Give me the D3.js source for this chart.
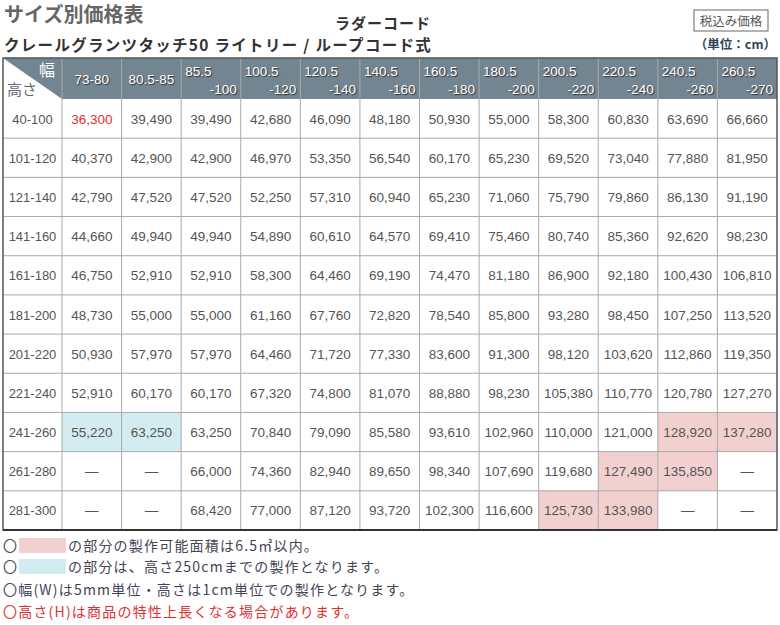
<!DOCTYPE html>
<html><head><meta charset="utf-8">
<script src="https://cdn.jsdelivr.net/npm/d3@7"></script>
<style>body{margin:0;background:#fff;font-family:"Noto Sans CJK JP",sans-serif}</style>
</head><body><div id="chart"></div>
<script>
// 幅 (width ranges), two lines each
var widths = [["73-80",""],["80.5-85",""],["85.5","-100"],["100.5","-120"],["120.5","-140"],["140.5","-160"],["160.5","-180"],["180.5","-200"],["200.5","-220"],["220.5","-240"],["240.5","-260"],["260.5","-270"]];
var heights = ["40-100","101-120","121-140","141-160","161-180","181-200","201-220","221-240","241-260","261-280","281-300"];
var prices = [
 [36300,39490,39490,42680,46090,48180,50930,55000,58300,60830,63690,66660],
 [40370,42900,42900,46970,53350,56540,60170,65230,69520,73040,77880,81950],
 [42790,47520,47520,52250,57310,60940,65230,71060,75790,79860,86130,91190],
 [44660,49940,49940,54890,60610,64570,69410,75460,80740,85360,92620,98230],
 [46750,52910,52910,58300,64460,69190,74470,81180,86900,92180,100430,106810],
 [48730,55000,55000,61160,67760,72820,78540,85800,93280,98450,107250,113520],
 [50930,57970,57970,64460,71720,77330,83600,91300,98120,103620,112860,119350],
 [52910,60170,60170,67320,74800,81070,88880,98230,105380,110770,120780,127270],
 [55220,63250,63250,70840,79090,85580,93610,102960,110000,121000,128920,137280],
 [null,null,66000,74360,82940,89650,98340,107690,119680,127490,135850,null],
 [null,null,68420,77000,87120,93720,102300,116600,125730,133980,null,null]
];
// highlight cells [row, col]
var pinkCells = [[8,10],[8,11],[9,9],[9,10],[10,8],[10,9]];
var blueCells = [[8,0],[8,1]];
var notes = ["の部分の製作可能面積は6.5㎡以内。","の部分は、高さ250cmまでの製作となります。","〇幅(W)は5mm単位・高さは1cm単位での製作となります。","〇高さ(H)は商品の特性上長くなる場合があります。"];

var W = 780, H = 625;
var svg = d3.select("#chart").append("svg").attr("width", W).attr("height", H);
var left = 3, right = 777, firstW = 59, tTop = 58, headH = 41, bottom = 530;
var x = d3.scaleBand().domain(d3.range(widths.length)).range([left + firstW, right]);
var y = d3.scaleBand().domain(d3.range(heights.length)).range([tTop + headH, bottom]);
var txt = "#555";
var numFont = "'Liberation Sans', Arial, sans-serif";

// titles
svg.append("text").attr("x", 4).attr("y", 22).attr("font-size", 20).attr("font-weight", "bold").attr("fill", "#666").text("サイズ別価格表");
svg.append("text").attr("x", 335).attr("y", 29).attr("font-size", 15).attr("font-weight", "bold").attr("fill", "#333").attr("letter-spacing", 1).text("ラダーコード");
svg.append("text").attr("x", 4).attr("y", 51).attr("font-size", 15.5).attr("font-weight", "bold").attr("fill", "#333").attr("letter-spacing", 1.3).text("クレールグランツタッチ50 ライトリー / ループコード式");
svg.append("rect").attr("x", 694).attr("y", 10).attr("width", 74).attr("height", 21).attr("fill", "#fff").attr("stroke", "#666");
svg.append("text").attr("x", 731).attr("y", 26).attr("text-anchor", "middle").attr("font-size", 12.5).attr("fill", "#555").text("税込み価格");
svg.append("text").attr("x", 776).attr("y", 49).attr("text-anchor", "end").attr("font-size", 12.5).attr("font-weight", "bold").attr("fill", "#345").text("（単位：cm）");

// header
svg.append("rect").attr("x", left).attr("y", tTop).attr("width", right - left).attr("height", headH).attr("fill", "#738591");
svg.append("path").attr("d", "M" + left + "," + tTop + "L" + (left + firstW) + "," + (tTop + headH) + "L" + left + "," + (tTop + headH) + "Z").attr("fill", "#fff");
svg.append("text").attr("x", 55).attr("y", 76).attr("text-anchor", "end").attr("font-size", 16).attr("fill", "#fff").text("幅");
svg.append("text").attr("x", 7).attr("y", 95).attr("font-size", 15).attr("fill", "#667").text("高さ");
var shadow = "text-shadow:1px 1px 1px #333";
widths.forEach(function (d, i) {
  var cx = x(i);
  if (d[1] === "") {
    svg.append("text").attr("x", cx + x.bandwidth() / 2).attr("y", tTop + 26).attr("text-anchor", "middle").attr("font-size", 13.5).attr("font-family", numFont).attr("fill", "#fff").attr("style", shadow).text(d[0]);
  } else {
    svg.append("text").attr("x", cx + 4).attr("y", tTop + 18).attr("font-size", 13.5).attr("font-family", numFont).attr("fill", "#fff").attr("style", shadow).text(d[0]);
    svg.append("text").attr("x", cx + x.bandwidth() - 4).attr("y", tTop + 36).attr("text-anchor", "end").attr("font-size", 13.5).attr("font-family", numFont).attr("fill", "#fff").attr("style", shadow).text(d[1]);
  }
});

// highlights
function fill(cells, col) {
  svg.selectAll(null).data(cells).enter().append("rect")
    .attr("x", function (d) { return x(d[1]); }).attr("y", function (d) { return y(d[0]); })
    .attr("width", x.bandwidth()).attr("height", y.bandwidth()).attr("fill", col);
}
fill(pinkCells, "#f2d0d0");
fill(blueCells, "#d2ecf1");

// grid
var grid = svg.append("g").attr("stroke", "#aaa").attr("stroke-width", 1);
d3.range(widths.length).forEach(function (i) {
  grid.append("line").attr("x1", x(i)).attr("x2", x(i)).attr("y1", tTop).attr("y2", bottom);
});
d3.range(1, heights.length).forEach(function (j) {
  grid.append("line").attr("x1", left).attr("x2", right).attr("y1", y(j)).attr("y2", y(j));
});
svg.append("rect").attr("x", left).attr("y", tTop).attr("width", right - left).attr("height", bottom - tTop).attr("fill", "none").attr("stroke", "#555").attr("stroke-width", 1.5);
svg.append("line").attr("x1", left).attr("x2", right).attr("y1", bottom).attr("y2", bottom).attr("stroke", "#333").attr("stroke-width", 2);

// row labels + values
heights.forEach(function (h, j) {
  var cy = y(j) + y.bandwidth() / 2 + 5;
  svg.append("text").attr("x", left + firstW / 2).attr("y", cy).attr("text-anchor", "middle").attr("font-size", 13).attr("font-family", numFont).attr("fill", txt).text(h);
  prices[j].forEach(function (v, i) {
    svg.append("text").attr("x", x(i) + x.bandwidth() / 2).attr("y", cy).attr("text-anchor", "middle").attr("font-size", 13.5).attr("font-family", numFont)
      .attr("fill", (i === 0 && j === 0) ? "#e03030" : txt)
      .text(v == null ? "—" : d3.format(",")(v));
  });
});

// notes
var ny = [551, 572, 595, 617];
notes.forEach(function (n, k) {
  var red = k === 3;
  if (k < 2) {
    svg.append("text").attr("x", 3).attr("y", ny[k]).attr("font-size", 14).attr("fill", "#445").text("〇");
    svg.append("rect").attr("x", 19).attr("y", ny[k] - 13).attr("width", 47).attr("height", 15).attr("fill", k === 0 ? "#f2d0d0" : "#d2ecf1");
    svg.append("text").attr("x", 68).attr("y", ny[k]).attr("font-size", 14).attr("letter-spacing", 1.2).attr("fill", "#445").text(n);
  } else {
    svg.append("text").attr("x", 3).attr("y", ny[k]).attr("font-size", 14).attr("letter-spacing", 1.2).attr("fill", red ? "#e03030" : "#445").text(n);
  }
});
</script></body></html>
